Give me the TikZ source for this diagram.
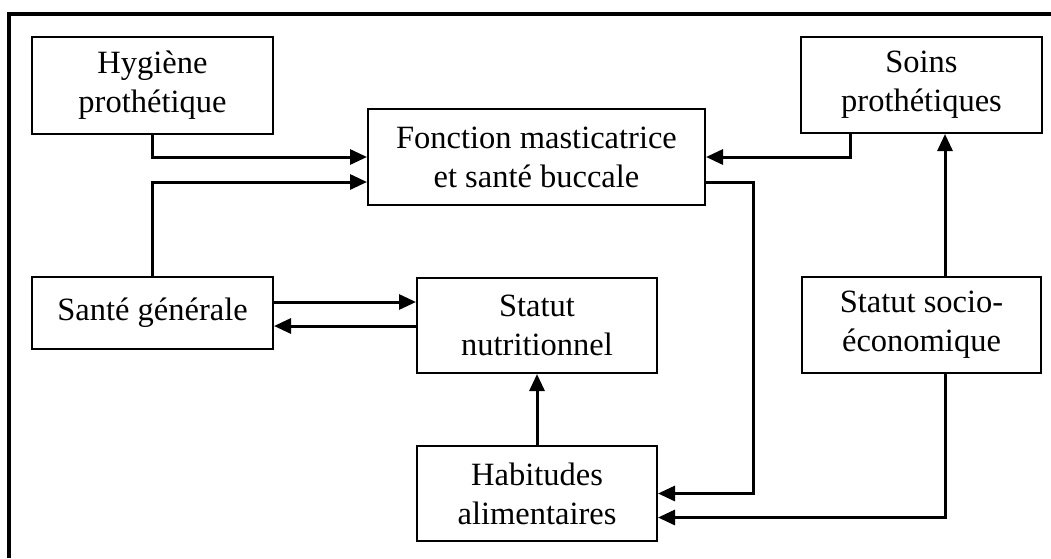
\documentclass[tikz,border=0pt]{standalone}
\usepackage{fontspec}
\setmainfont{Liberation Serif}
\usetikzlibrary{arrows.meta}
\begin{document}
\begin{tikzpicture}[x=1pt,y=-1pt,
  box/.style={draw,line width=2pt,inner sep=0pt,align=center,
    font=\fontsize{32.5}{39}\selectfont},
  arr/.style={line width=3pt,-{Triangle[length=17pt,width=15pt]}}]
\useasboundingbox (0,0) rectangle (1051,558);
\draw[line width=3.5pt] (9,558) -- (9,14) -- (1051,14);
\node[box,minimum width=241pt,minimum height=97pt] (hyg) at (152.5,85.5) {Hygiène\\prothétique};
\node[box,minimum width=337pt,minimum height=96pt] (fon) at (536.5,157) {Fonction masticatrice\\et santé buccale};
\node[box,minimum width=241pt,minimum height=96pt] (soin) at (921.5,85) {Soins\\prothétiques};
\node[box,minimum width=241pt,minimum height=72pt] (sante) at (152.5,313) {Santé générale};
\node[box,minimum width=240pt,minimum height=95pt] (nut) at (537,325.5) {Statut\\nutritionnel};
\node[box,minimum width=239pt,minimum height=96pt] (socio) at (921.5,325) {Statut socio-\\économique};
\node[box,minimum width=240pt,minimum height=95pt] (hab) at (537,493.5) {Habitudes\\alimentaires};
\draw[arr] (hyg.south) |- (fon.west);
\draw[arr] (sante.north) |- ([yshift=-25pt]fon.west);
\draw[arr] ([xshift=-71.5pt]soin.south) |- (fon.east);
\draw[arr] ([yshift=-25pt]fon.east) -- ++(47,0) |- (hab.east);
\draw[arr] ([xshift=23.5pt]socio.north) -- ([xshift=23.5pt]socio.north |- soin.south);
\draw[arr] ([xshift=23.5pt]socio.south) |- ([yshift=-24pt]hab.east);
\draw[arr] ([yshift=11pt]sante.east) -- ([yshift=11pt]sante.east -| nut.west);
\draw[arr] ([yshift=-13pt]sante.east -| nut.west) -- ([yshift=-13pt]sante.east);
\draw[arr] (hab.north) -- (nut.south);
\end{tikzpicture}
\end{document}
